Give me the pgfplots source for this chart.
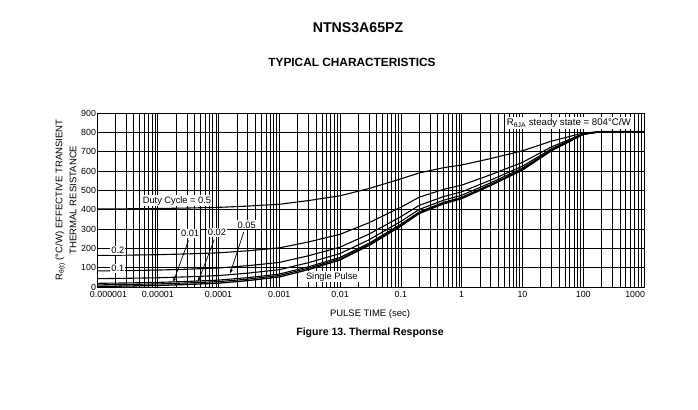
\documentclass[border=0pt]{standalone}
\usepackage{pgfplots}
\pgfplotsset{compat=1.18}
\usepackage{fontspec}
\setmainfont{Liberation Sans}
\usetikzlibrary{arrows.meta}
\frenchspacing
\begin{document}
\begin{tikzpicture}[x=1bp,y=1bp]
\useasboundingbox (0,0) rectangle (698,-409);
\node[font=\bfseries\fontsize{14.2}{16}\selectfont] at (358,-28) {NTNS3A65PZ};
\node[font=\bfseries\fontsize{11.9}{13}\selectfont] at (352,-62) {TYPICAL CHARACTERISTICS};
\node[rotate=90, align=center, font=\fontsize{9.6}{14}\selectfont] at (66,-200) {R\textsubscript{θ(t)} (°C/W) EFFECTIVE TRANSIENT\\THERMAL RESISTANCE};
\node[font=\fontsize{9.5}{11}\selectfont] at (370,-314) {PULSE TIME (sec)};
\node[font=\bfseries\fontsize{10.6}{12}\selectfont] at (370,-333) {Figure 13. Thermal Response};
\begin{axis}[
  at={(97bp,-287bp)}, anchor=south west,
  scale only axis, width=547bp, height=174bp,
  xmode=log, log basis x=10,
  xmin=1e-6, xmax=1000, ymin=0, ymax=900,
  ytick={0,100,...,900},
  xtick={1e-6,1e-5,1e-4,1e-3,1e-2,1e-1,1,10,100,1000},
  xticklabels={\makebox[0pt][l]{\hspace{-7bp}0.000001},0.00001,0.0001,0.001,0.01,0.1,1,10,100,\makebox[0pt][r]{1000\hspace{-1bp}}},
  minor xtick={2e-6,3e-6,4e-6,5e-6,6e-6,7e-6,8e-6,9e-6,
    2e-5,3e-5,4e-5,5e-5,6e-5,7e-5,8e-5,9e-5,
    2e-4,3e-4,4e-4,5e-4,6e-4,7e-4,8e-4,9e-4,
    2e-3,3e-3,4e-3,5e-3,6e-3,7e-3,8e-3,9e-3,
    2e-2,3e-2,4e-2,5e-2,6e-2,7e-2,8e-2,9e-2,
    0.2,0.3,0.4,0.5,0.6,0.7,0.8,0.9,
    2,3,4,5,6,7,8,9,
    20,30,40,50,60,70,80,90,
    200,300,400,500,600,700,800,900},
  grid=both,
  major grid style={black, line width=0.65pt},
  minor grid style={black, line width=0.55pt},
  axis line style={black, line width=0.65pt},
  tick style={draw=none},
  ticklabel style={font=\fontsize{8.9}{10}\selectfont},
  /pgf/number format/assume math mode=true,
  xticklabel shift=1bp,
  yticklabel shift=-2.5bp,
]
% Duty cycle 0.5
\addplot[black, line width=1.1pt] coordinates {
(1e-6,403.5)(3e-6,404.5)(1e-5,406)(3e-5,408.5)(1e-4,412)(3e-4,418.5)(1e-3,428)(3e-3,447)(1e-2,472)(3e-2,509.5)(0.1,559.5)(0.2,590)(0.5,617)(1,631)(3,664.5)(10,704.5)(30,754.5)(100,797)(200,804)(1000,804)};
% 0.2
\addplot[black, line width=1.1pt] coordinates {
(1e-6,163.2)(3e-6,164.8)(1e-5,167.2)(3e-5,171.2)(1e-4,176.8)(3e-4,187.2)(1e-3,202.4)(3e-3,232.8)(1e-2,272.8)(3e-2,332.8)(0.1,412.8)(0.2,464.8)(0.5,504.8)(1,526.8)(3,580.8)(10,644.8)(30,724.8)(100,792.8)(200,804)(1000,804)};
% 0.1
\addplot[black, line width=1.1pt] coordinates {
(1e-6,83.1)(3e-6,84.9)(1e-5,87.6)(3e-5,92.1)(1e-4,98.4)(3e-4,110.1)(1e-3,127.2)(3e-3,161.4)(1e-2,206.4)(3e-2,273.9)(0.1,363.9)(0.2,422.4)(0.5,467.4)(1,492.2)(3,552.9)(10,624.9)(30,714.9)(100,791.4)(200,804)(1000,804)};
% 0.05
\addplot[black, line width=1.1pt] coordinates {
(1e-6,43.1)(3e-6,45.0)(1e-5,47.8)(3e-5,52.6)(1e-4,59.2)(3e-4,71.6)(1e-3,89.6)(3e-3,125.7)(1e-2,173.2)(3e-2,244.5)(0.1,339.5)(0.2,401.2)(0.5,448.7)(1,474.7)(3,539)(10,615)(30,710)(100,790.7)(200,804)(1000,804)};
% 0.02
\addplot[black, line width=1.1pt] coordinates {
(1e-6,19.0)(3e-6,21.0)(1e-5,23.9)(3e-5,28.8)(1e-4,35.7)(3e-4,48.4)(1e-3,67.0)(3e-3,104.3)(1e-2,153.3)(3e-2,226.8)(0.1,324.8)(0.2,388.5)(0.5,437.5)(1,464.4)(3,530.6)(10,609.0)(30,707.0)(100,790.3)(200,804)(1000,804)};
% 0.01
\addplot[black, line width=1.1pt] coordinates {
(1e-6,11.0)(3e-6,13.0)(1e-5,16.0)(3e-5,20.9)(1e-4,27.8)(3e-4,40.7)(1e-3,59.5)(3e-3,97.1)(1e-2,146.6)(3e-2,220.9)(0.1,319.9)(0.2,384.2)(0.5,433.7)(1,460.9)(3,527.8)(10,607.0)(30,706.0)(100,790.1)(200,804)(1000,804)};
% single pulse
\addplot[black, line width=1.3pt] coordinates {
(1e-6,3)(3e-6,5)(1e-5,8)(3e-5,13)(1e-4,20)(3e-4,33)(1e-3,52)(3e-3,90)(1e-2,140)(3e-2,215)(0.1,315)(0.2,380)(0.5,430)(1,457)(3,525)(10,605)(30,705)(100,790)(200,804)(1000,804)};

\begin{scope}[font=\fontsize{9.3}{10}\selectfont]
\node[fill=white, inner sep=1.2pt] at (axis cs:2.07e-5,445) {Duty Cycle = 0.5};
\node[fill=white, inner sep=1.2pt] at (axis cs:2.2e-6,191) {0.2};
\node[fill=white, inner sep=1.2pt] at (axis cs:2.2e-6,98) {0.1};
\node[fill=white, inner sep=1.2pt] at (axis cs:3.4e-5,279) {0.01};
\node[fill=white, inner sep=1.2pt] at (axis cs:9.4e-5,283) {0.02};
\node[fill=white, inner sep=1.2pt] at (axis cs:2.9e-4,321) {0.05};
\node[fill=white, inner sep=1.2pt] at (axis cs:0.0073,52) {Single Pulse};
\node[fill=white, inner sep=1.5pt, font=\fontsize{9.7}{10}\selectfont] at (axis cs:58,848) {R\textsubscript{θJA} steady state = 804°C/W};
\end{scope}
\draw[line width=0.7pt, -{Stealth[length=4.5pt,width=3.2pt]}] (axis cs:3.2e-5,240) -- (axis cs:1.8e-5,26);
\draw[line width=0.7pt, -{Stealth[length=4.5pt,width=3.2pt]}] (axis cs:8.5e-5,245) -- (axis cs:4.6e-5,28);
\draw[line width=0.7pt, -{Stealth[length=4.5pt,width=3.2pt]}] (axis cs:2.6e-4,285) -- (axis cs:1.55e-4,70);
\end{axis}
\end{tikzpicture}
\end{document}
